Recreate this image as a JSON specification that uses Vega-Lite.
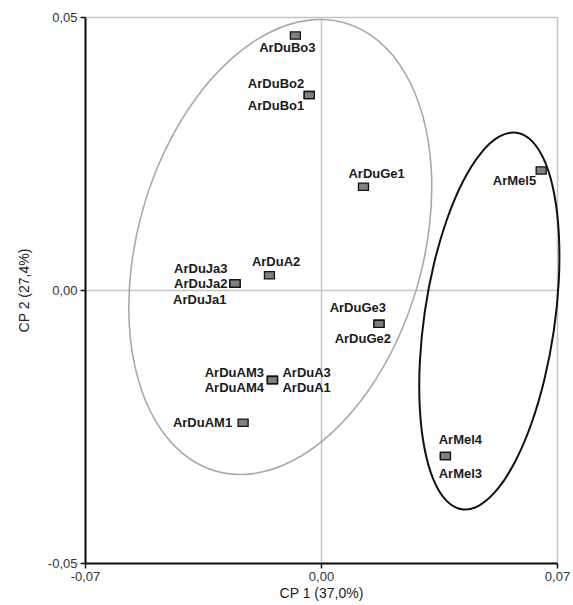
{
  "$schema": "https://vega.github.io/schema/vega-lite/v6.json",
  "autosize": "none",
  "width": 472,
  "height": 546,
  "padding": {"left": 85, "top": 17, "right": 16, "bottom": 42},
  "background": "white",
  "config": {"view": {"stroke": null}, "font": "Liberation Sans"},
  "datasets": {
    "samples": [
      {"sample": "ArDuBo3", "group": "Du", "x": -0.0076, "y": 0.0466},
      {"sample": "ArDuBo2", "group": "Du", "x": -0.0035, "y": 0.0357},
      {"sample": "ArDuBo1", "group": "Du", "x": -0.0035, "y": 0.0357},
      {"sample": "ArDuGe1", "group": "Du", "x": 0.0126, "y": 0.0189},
      {"sample": "ArDuA2", "group": "Du", "x": -0.0153, "y": 0.0027},
      {"sample": "ArDuJa3", "group": "Du", "x": -0.0255, "y": 0.0012},
      {"sample": "ArDuJa2", "group": "Du", "x": -0.0255, "y": 0.0012},
      {"sample": "ArDuJa1", "group": "Du", "x": -0.0255, "y": 0.0012},
      {"sample": "ArDuGe3", "group": "Du", "x": 0.0172, "y": -0.0062},
      {"sample": "ArDuGe2", "group": "Du", "x": 0.0172, "y": -0.0062},
      {"sample": "ArDuAM3", "group": "Du", "x": -0.0144, "y": -0.0165},
      {"sample": "ArDuAM4", "group": "Du", "x": -0.0144, "y": -0.0165},
      {"sample": "ArDuA3", "group": "Du", "x": -0.0144, "y": -0.0165},
      {"sample": "ArDuA1", "group": "Du", "x": -0.0144, "y": -0.0165},
      {"sample": "ArDuAM1", "group": "Du", "x": -0.0231, "y": -0.0243},
      {"sample": "ArMel5", "group": "Mel", "x": 0.0653, "y": 0.0219},
      {"sample": "ArMel4", "group": "Mel", "x": 0.0369, "y": -0.0304},
      {"sample": "ArMel3", "group": "Mel", "x": 0.0369, "y": -0.0304}
    ],
    "ellipses": [
      {"ellipse": "Du", "i": 1, "x": 0.00716, "y": 0.04890},
      {"ellipse": "Du", "i": 2, "x": 0.01702, "y": 0.04562},
      {"ellipse": "Du", "i": 3, "x": 0.02489, "y": 0.03977},
      {"ellipse": "Du", "i": 4, "x": 0.03024, "y": 0.03175},
      {"ellipse": "Du", "i": 5, "x": 0.03271, "y": 0.02210},
      {"ellipse": "Du", "i": 6, "x": 0.03212, "y": 0.01148},
      {"ellipse": "Du", "i": 7, "x": 0.02853, "y": 0.00062},
      {"ellipse": "Du", "i": 8, "x": 0.02217, "y": -0.00975},
      {"ellipse": "Du", "i": 9, "x": 0.01347, "y": -0.01892},
      {"ellipse": "Du", "i": 10, "x": 0.00303, "y": -0.02626},
      {"ellipse": "Du", "i": 11, "x": -0.00843, "y": -0.03128},
      {"ellipse": "Du", "i": 12, "x": -0.02015, "y": -0.03363},
      {"ellipse": "Du", "i": 13, "x": -0.03131, "y": -0.03315},
      {"ellipse": "Du", "i": 14, "x": -0.04116, "y": -0.02987},
      {"ellipse": "Du", "i": 15, "x": -0.04904, "y": -0.02402},
      {"ellipse": "Du", "i": 16, "x": -0.05439, "y": -0.01600},
      {"ellipse": "Du", "i": 17, "x": -0.05686, "y": -0.00635},
      {"ellipse": "Du", "i": 18, "x": -0.05627, "y": 0.00427},
      {"ellipse": "Du", "i": 19, "x": -0.05268, "y": 0.01513},
      {"ellipse": "Du", "i": 20, "x": -0.04631, "y": 0.02550},
      {"ellipse": "Du", "i": 21, "x": -0.03762, "y": 0.03467},
      {"ellipse": "Du", "i": 22, "x": -0.02718, "y": 0.04201},
      {"ellipse": "Du", "i": 23, "x": -0.01572, "y": 0.04703},
      {"ellipse": "Du", "i": 24, "x": -0.00400, "y": 0.04938},
      {"ellipse": "Mel", "i": 1, "x": 0.05805, "y": 0.02880},
      {"ellipse": "Mel", "i": 2, "x": 0.06273, "y": 0.02718},
      {"ellipse": "Mel", "i": 3, "x": 0.06654, "y": 0.02332},
      {"ellipse": "Mel", "i": 4, "x": 0.06921, "y": 0.01749},
      {"ellipse": "Mel", "i": 5, "x": 0.07056, "y": 0.01008},
      {"ellipse": "Mel", "i": 6, "x": 0.07052, "y": 0.00158},
      {"ellipse": "Mel", "i": 7, "x": 0.06907, "y": -0.00740},
      {"ellipse": "Mel", "i": 8, "x": 0.06631, "y": -0.01626},
      {"ellipse": "Mel", "i": 9, "x": 0.06244, "y": -0.02441},
      {"ellipse": "Mel", "i": 10, "x": 0.05771, "y": -0.03128},
      {"ellipse": "Mel", "i": 11, "x": 0.05246, "y": -0.03640},
      {"ellipse": "Mel", "i": 12, "x": 0.04703, "y": -0.03943},
      {"ellipse": "Mel", "i": 13, "x": 0.04180, "y": -0.04016},
      {"ellipse": "Mel", "i": 14, "x": 0.03712, "y": -0.03854},
      {"ellipse": "Mel", "i": 15, "x": 0.03332, "y": -0.03468},
      {"ellipse": "Mel", "i": 16, "x": 0.03065, "y": -0.02884},
      {"ellipse": "Mel", "i": 17, "x": 0.02929, "y": -0.02143},
      {"ellipse": "Mel", "i": 18, "x": 0.02934, "y": -0.01294},
      {"ellipse": "Mel", "i": 19, "x": 0.03079, "y": -0.00396},
      {"ellipse": "Mel", "i": 20, "x": 0.03354, "y": 0.00491},
      {"ellipse": "Mel", "i": 21, "x": 0.03742, "y": 0.01305},
      {"ellipse": "Mel", "i": 22, "x": 0.04214, "y": 0.01992},
      {"ellipse": "Mel", "i": 23, "x": 0.04740, "y": 0.02504},
      {"ellipse": "Mel", "i": 24, "x": 0.05282, "y": 0.02807}
    ]
  },
  "encoding": {
    "x": {
      "field": "x", "type": "quantitative",
      "scale": {"domain": [-0.07, 0.07], "nice": false, "zero": false},
      "axis": {
        "title": "CP 1 (37,0%)",
        "values": [-0.07, 0, 0.07],
        "labelExpr": "replace(replace(format(datum.value, '.2f'), '.', ','), '\u2212', '-')",
        "grid": true, "gridColor": "#c4c4c4", "gridWidth": 1.5,
        "domainColor": "#111111", "domainWidth": 2,
        "tickColor": "#111111", "tickWidth": 1.5, "tickSize": 5,
        "labelFontSize": 13, "labelColor": "#333333", "labelFlush": false, "labelPadding": 2,
        "titleFontSize": 14, "titleFontWeight": "normal", "titleColor": "#222222", "titlePadding": 3
      }
    },
    "y": {
      "field": "y", "type": "quantitative",
      "scale": {"domain": [-0.05, 0.05], "nice": false, "zero": false},
      "axis": {
        "title": "CP 2 (27,4%)",
        "values": [-0.05, 0, 0.05],
        "labelExpr": "replace(replace(format(datum.value, '.2f'), '.', ','), '\u2212', '-')",
        "grid": true, "gridColor": "#c4c4c4", "gridWidth": 1.5,
        "domainColor": "#111111", "domainWidth": 2,
        "tickColor": "#111111", "tickWidth": 1.5, "tickSize": 5,
        "labelFontSize": 13, "labelColor": "#333333", "labelPadding": 3,
        "titleFontSize": 14, "titleFontWeight": "normal", "titleColor": "#222222", "titlePadding": 16
      }
    }
  },
  "layer": [
    {
      "data": {"name": "ellipses"},
      "transform": [{"filter": "datum.ellipse === 'Du'"}],
      "mark": {"type": "line", "interpolate": "cardinal-closed", "stroke": "#a8a8a8", "strokeWidth": 1.6},
      "encoding": {"order": {"field": "i", "type": "quantitative"}}
    },
    {
      "data": {"name": "ellipses"},
      "transform": [{"filter": "datum.ellipse === 'Mel'"}],
      "mark": {"type": "line", "interpolate": "cardinal-closed", "stroke": "#111111", "strokeWidth": 2},
      "encoding": {"order": {"field": "i", "type": "quantitative"}}
    },
    {
      "data": {"name": "samples"},
      "mark": {"type": "point", "shape": "M-1,-0.72H1V0.72H-1Z", "filled": true, "fill": "#808080", "stroke": "#111111", "strokeWidth": 1.3, "size": 100, "opacity": 1}
    },
    {
      "data": {"name": "samples"},
      "transform": [{"filter": {"field": "sample", "oneOf": ["ArDuBo2"]}}],
      "mark": {"type": "text", "fontWeight": "bold", "fontSize": 13, "fill": "#1a1a1a", "align": "right", "baseline": "middle", "dx": -5, "dy": -11.5},
      "encoding": {"text": {"field": "sample"}}
    },
    {
      "data": {"name": "samples"},
      "transform": [{"filter": {"field": "sample", "oneOf": ["ArDuJa3"]}}],
      "mark": {"type": "text", "fontWeight": "bold", "fontSize": 13, "fill": "#1a1a1a", "align": "right", "baseline": "middle", "dx": -7.5, "dy": -14.5},
      "encoding": {"text": {"field": "sample"}}
    },
    {
      "data": {"name": "samples"},
      "transform": [{"filter": {"field": "sample", "oneOf": ["ArDuBo1", "ArMel5"]}}],
      "mark": {"type": "text", "fontWeight": "bold", "fontSize": 13, "fill": "#1a1a1a", "align": "right", "baseline": "middle", "dx": -5, "dy": 10.5},
      "encoding": {"text": {"field": "sample"}}
    },
    {
      "data": {"name": "samples"},
      "transform": [{"filter": {"field": "sample", "oneOf": ["ArDuJa2"]}}],
      "mark": {"type": "text", "fontWeight": "bold", "fontSize": 13, "fill": "#1a1a1a", "align": "right", "baseline": "middle", "dx": -7.5, "dy": 0.5},
      "encoding": {"text": {"field": "sample"}}
    },
    {
      "data": {"name": "samples"},
      "transform": [{"filter": {"field": "sample", "oneOf": ["ArDuAM1"]}}],
      "mark": {"type": "text", "fontWeight": "bold", "fontSize": 13, "fill": "#1a1a1a", "align": "right", "baseline": "middle", "dx": -11, "dy": 0},
      "encoding": {"text": {"field": "sample"}}
    },
    {
      "data": {"name": "samples"},
      "transform": [{"filter": {"field": "sample", "oneOf": ["ArDuJa1"]}}],
      "mark": {"type": "text", "fontWeight": "bold", "fontSize": 13, "fill": "#1a1a1a", "align": "right", "baseline": "middle", "dx": -8.5, "dy": 16.5},
      "encoding": {"text": {"field": "sample"}}
    },
    {
      "data": {"name": "samples"},
      "transform": [{"filter": {"field": "sample", "oneOf": ["ArDuAM3"]}}],
      "mark": {"type": "text", "fontWeight": "bold", "fontSize": 13, "fill": "#1a1a1a", "align": "right", "baseline": "middle", "dx": -8.5, "dy": -7.5},
      "encoding": {"text": {"field": "sample"}}
    },
    {
      "data": {"name": "samples"},
      "transform": [{"filter": {"field": "sample", "oneOf": ["ArDuAM4"]}}],
      "mark": {"type": "text", "fontWeight": "bold", "fontSize": 13, "fill": "#1a1a1a", "align": "right", "baseline": "middle", "dx": -8.5, "dy": 7.5},
      "encoding": {"text": {"field": "sample"}}
    },
    {
      "data": {"name": "samples"},
      "transform": [{"filter": {"field": "sample", "oneOf": ["ArDuA3"]}}],
      "mark": {"type": "text", "fontWeight": "bold", "fontSize": 13, "fill": "#1a1a1a", "align": "left", "baseline": "middle", "dx": 10, "dy": -7.5},
      "encoding": {"text": {"field": "sample"}}
    },
    {
      "data": {"name": "samples"},
      "transform": [{"filter": {"field": "sample", "oneOf": ["ArDuA1"]}}],
      "mark": {"type": "text", "fontWeight": "bold", "fontSize": 13, "fill": "#1a1a1a", "align": "left", "baseline": "middle", "dx": 10, "dy": 7.5},
      "encoding": {"text": {"field": "sample"}}
    },
    {
      "data": {"name": "samples"},
      "transform": [{"filter": {"field": "sample", "oneOf": ["ArDuGe1"]}}],
      "mark": {"type": "text", "fontWeight": "bold", "fontSize": 13, "fill": "#1a1a1a", "align": "left", "baseline": "middle", "dx": -15, "dy": -12.7},
      "encoding": {"text": {"field": "sample"}}
    },
    {
      "data": {"name": "samples"},
      "transform": [{"filter": {"field": "sample", "oneOf": ["ArDuA2"]}}],
      "mark": {"type": "text", "fontWeight": "bold", "fontSize": 13, "fill": "#1a1a1a", "align": "left", "baseline": "middle", "dx": -17.5, "dy": -13},
      "encoding": {"text": {"field": "sample"}}
    },
    {
      "data": {"name": "samples"},
      "transform": [{"filter": {"field": "sample", "oneOf": ["ArMel4"]}}],
      "mark": {"type": "text", "fontWeight": "bold", "fontSize": 13, "fill": "#1a1a1a", "align": "left", "baseline": "middle", "dx": -6.7, "dy": -16},
      "encoding": {"text": {"field": "sample"}}
    },
    {
      "data": {"name": "samples"},
      "transform": [{"filter": {"field": "sample", "oneOf": ["ArMel3"]}}],
      "mark": {"type": "text", "fontWeight": "bold", "fontSize": 13, "fill": "#1a1a1a", "align": "left", "baseline": "middle", "dx": -6.7, "dy": 18},
      "encoding": {"text": {"field": "sample"}}
    },
    {
      "data": {"name": "samples"},
      "transform": [{"filter": {"field": "sample", "oneOf": ["ArDuGe3"]}}],
      "mark": {"type": "text", "fontWeight": "bold", "fontSize": 13, "fill": "#1a1a1a", "align": "right", "baseline": "middle", "dx": 7, "dy": -16},
      "encoding": {"text": {"field": "sample"}}
    },
    {
      "data": {"name": "samples"},
      "transform": [{"filter": {"field": "sample", "oneOf": ["ArDuGe2"]}}],
      "mark": {"type": "text", "fontWeight": "bold", "fontSize": 13, "fill": "#1a1a1a", "align": "right", "baseline": "middle", "dx": 12, "dy": 15.3},
      "encoding": {"text": {"field": "sample"}}
    },
    {
      "data": {"name": "samples"},
      "transform": [{"filter": {"field": "sample", "oneOf": ["ArDuBo3"]}}],
      "mark": {"type": "text", "fontWeight": "bold", "fontSize": 13, "fill": "#1a1a1a", "align": "center", "baseline": "middle", "dx": -8, "dy": 12},
      "encoding": {"text": {"field": "sample"}}
    }
  ]
}
